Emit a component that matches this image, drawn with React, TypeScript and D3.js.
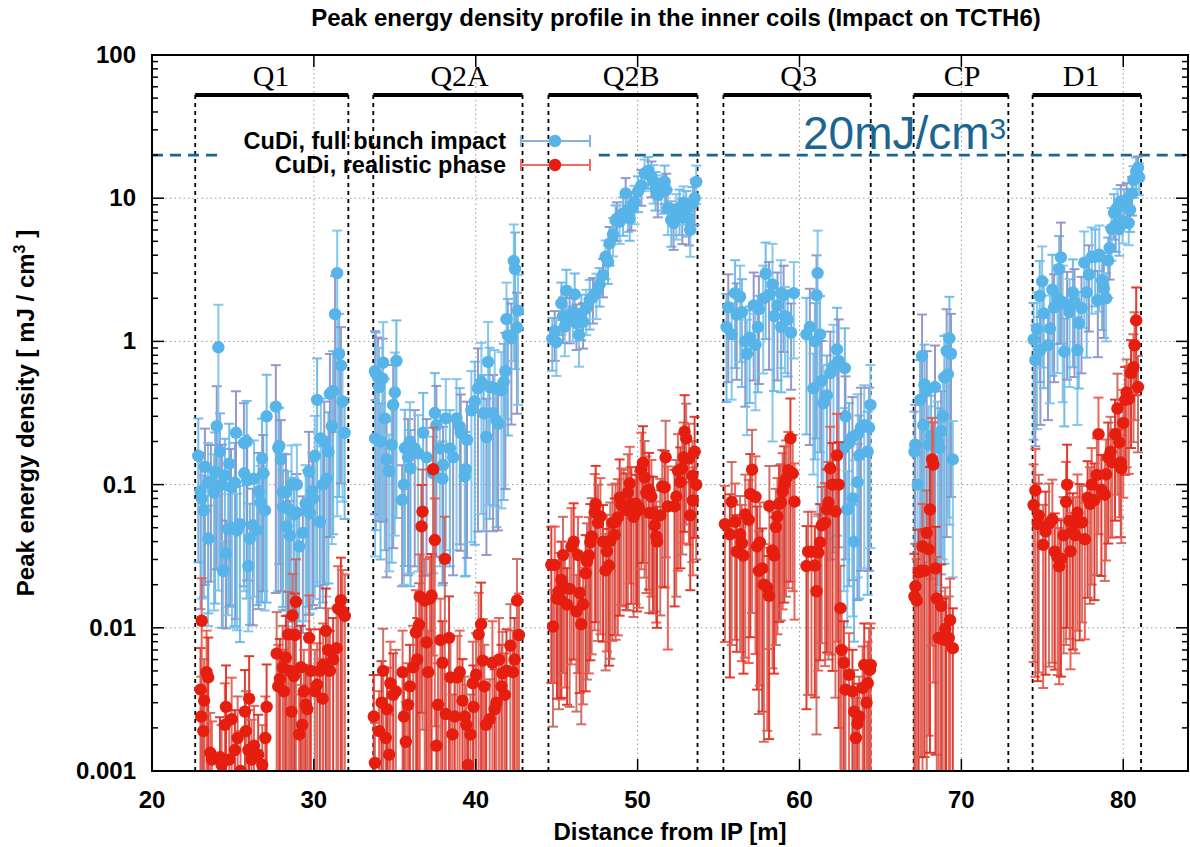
import React from "react";
import * as d3 from "d3";

type Pt = [number, number, number]; // [distance m, peak energy density, relative error]

const xTickValues = [20, 30, 40, 50, 60, 70, 80];
const yTickValues = [0.001, 0.01, 0.1, 1, 10, 100];
const yTickLabels = ["0.001", "0.01", "0.1", "1", "10", "100"];
const gridX = [30, 40, 50, 60, 70, 80];
const gridY = [0.01, 0.1, 1, 10];

const magnetNames = ["Q1", "Q2A", "Q2B", "Q3", "CP", "D1"];
const magnetStart = [22.67, 33.67, 44.49, 55.3, 67.05, 74.4];
const magnetEnd = [32.13, 42.89, 53.7, 64.4, 72.9, 81.1];
const magnetLabelX = [27.35, 39.0, 49.6, 59.95, 70.05, 77.4];

const threshold = 20;
const thresholdSegments = [[20, 24.1], [47.6, 84]];

const q1Blue: Pt[] = [[22.86,0.159,0.82],[23.0,0.09,0.85],[23.07,0.08,0.8],[23.2,0.066,0.75],[23.27,0.133,0.85],[23.46,0.103,0.9],[23.48,0.042,0.7],[23.64,0.105,0.8],[23.83,0.088,0.85],[23.9,0.123,0.88],[24.0,0.256,0.9],[24.1,0.91,0.98],[24.2,0.17,0.85],[24.32,0.1,0.9],[24.4,0.025,0.6],[24.5,0.116,0.8],[24.57,0.033,0.7],[24.7,0.049,0.75],[24.77,0.14,0.9],[24.88,0.096,0.85],[24.94,0.05,0.8],[25.12,0.103,0.9],[25.19,0.23,0.95],[25.25,0.048,0.8],[25.43,0.053,0.85],[25.68,0.195,0.9],[25.7,0.12,0.85],[25.85,0.2,0.92],[25.88,0.107,0.8],[25.95,0.027,0.65],[26.05,0.042,0.75],[26.23,0.052,0.8],[26.3,0.11,0.85],[26.48,0.048,0.7],[26.59,0.09,0.85],[26.7,0.075,0.8],[26.8,0.152,0.9],[26.87,0.12,0.85],[26.98,0.066,0.8],[27.08,0.3,0.95],[27.65,0.35,0.95],[27.8,0.18,0.9],[27.86,0.186,0.85],[27.96,0.15,0.88],[28.07,0.089,0.85],[28.09,0.07,0.8],[28.27,0.088,0.85],[28.31,0.051,0.8],[28.4,0.068,0.82],[28.52,0.044,0.75],[28.62,0.1,0.88],[28.77,0.062,0.8],[28.93,0.064,0.85],[28.95,0.1,0.9],[29.09,0.037,0.7],[29.32,0.046,0.8],[29.49,0.074,0.85],[29.57,0.07,0.8],[29.69,0.123,0.9],[29.75,0.063,0.8],[29.9,0.09,0.85],[29.96,0.08,0.82],[30.06,0.159,0.9],[30.2,0.39,0.95],[30.37,0.055,0.75],[30.43,0.21,0.9],[30.56,0.1,0.85],[30.64,0.2,0.9],[30.78,0.11,0.85],[30.9,0.17,0.88],[30.99,0.43,0.9],[31.11,0.256,0.85],[31.19,0.45,0.9],[31.31,1.55,0.85],[31.44,3.0,0.98],[31.56,0.82,0.9],[31.67,0.68,0.85],[31.77,0.38,0.8],[31.9,0.23,0.75]];

const q1Red: Pt[] = [[23.0,0.0037,0.95],[23.04,0.0024,0.9],[23.07,0.0112,0.98],[23.17,0.0019,0.9],[23.22,0.0031,0.95],[23.37,0.0049,0.95],[23.47,0.0045,0.9],[23.6,0.00134,0.9],[23.7,0.0012,0.85],[24.2,0.00125,0.9],[24.3,0.0011,0.9],[24.5,0.0021,0.95],[24.57,0.0028,0.95],[24.77,0.0012,0.9],[24.92,0.0023,0.95],[25.12,0.0014,0.9],[25.29,0.0017,0.95],[25.47,0.001,0.9],[25.74,0.0026,0.95],[25.8,0.0019,0.9],[25.95,0.0014,0.9],[26.0,0.0032,0.98],[26.15,0.0012,0.9],[26.3,0.0015,0.9],[26.56,0.0013,0.9],[26.81,0.0011,0.9],[27.0,0.0017,0.95],[27.08,0.0028,0.98],[27.7,0.0066,0.95],[27.8,0.0039,0.95],[27.9,0.0044,0.9],[28.07,0.0053,0.95],[28.15,0.0036,0.95],[28.27,0.0062,0.95],[28.41,0.009,0.98],[28.52,0.005,0.95],[28.62,0.0026,0.9],[28.68,0.0122,0.95],[28.77,0.0046,0.95],[28.83,0.0089,0.95],[28.89,0.0152,0.98],[29.09,0.0018,0.9],[29.2,0.0053,0.95],[29.28,0.0021,0.9],[29.38,0.0036,0.95],[29.49,0.0029,0.9],[29.59,0.0027,0.9],[29.71,0.0085,0.98],[29.81,0.005,0.95],[30.06,0.0036,0.95],[30.2,0.004,0.95],[30.37,0.005,0.95],[30.54,0.0032,0.9],[30.57,0.0055,0.95],[30.74,0.0095,0.98],[30.88,0.007,0.95],[30.99,0.005,0.9],[31.19,0.006,0.95],[31.4,0.0072,0.95],[31.5,0.0136,0.98],[31.67,0.0156,0.98],[31.77,0.013,0.95],[31.91,0.0121,0.95]];

const q2aBlue: Pt[] = [[33.77,0.62,0.9],[33.78,0.21,0.85],[33.83,0.6,0.92],[33.97,0.56,0.9],[34.03,0.48,0.88],[34.12,0.2,0.85],[34.24,0.55,0.9],[34.28,0.71,0.92],[34.38,0.29,0.88],[34.49,0.15,0.85],[34.65,0.124,0.8],[34.81,0.19,0.85],[34.9,0.36,0.9],[35.0,0.44,0.9],[35.1,0.73,0.92],[35.45,0.078,0.75],[35.56,0.1,0.8],[35.62,0.18,0.85],[35.82,0.155,0.85],[35.93,0.2,0.88],[35.97,0.13,0.85],[36.23,0.179,0.85],[36.44,0.165,0.85],[36.75,0.23,0.9],[36.96,0.155,0.85],[37.37,0.12,0.8],[37.47,0.316,0.9],[37.57,0.26,0.88],[37.78,0.179,0.85],[37.94,0.11,0.82],[37.98,0.137,0.85],[38.15,0.29,0.88],[38.4,0.179,0.85],[38.6,0.155,0.85],[38.81,0.29,0.88],[39.01,0.255,0.85],[39.07,0.23,0.85],[39.32,0.114,0.8],[39.38,0.128,0.82],[39.46,0.205,0.85],[39.73,0.33,0.88],[39.94,0.38,0.9],[40.14,0.47,0.9],[40.35,0.52,0.88],[40.49,0.315,0.85],[40.66,0.215,0.85],[40.76,0.72,0.9],[40.86,0.48,0.88],[41.07,0.315,0.85],[41.17,0.47,0.85],[41.28,0.28,0.82],[41.38,0.266,0.82],[41.59,0.455,0.85],[41.73,0.52,0.85],[41.83,0.62,0.85],[41.9,1.43,0.8],[41.99,1.1,0.8],[42.2,1.05,0.75],[42.35,3.64,0.8],[42.43,3.2,0.8],[42.55,1.25,0.75],[42.61,1.64,0.78]];

const q2aRed: Pt[] = [[33.7,0.0024,0.95],[33.77,0.00114,0.9],[34.03,0.0019,0.9],[34.18,0.003,0.95],[34.28,0.005,0.97],[34.44,0.0017,0.9],[34.52,0.0027,0.95],[34.65,0.0013,0.9],[34.73,0.0041,0.95],[34.9,0.0034,0.95],[35.06,0.0036,0.95],[35.48,0.0049,0.95],[35.56,0.0024,0.9],[35.68,0.0016,0.9],[35.82,0.0029,0.95],[35.93,0.0039,0.95],[36.13,0.0053,0.95],[36.3,0.0093,0.97],[36.38,0.006,0.95],[36.5,0.0105,0.95],[36.54,0.0165,0.97],[36.65,0.051,0.95],[36.71,0.0647,0.97],[36.85,0.0155,0.95],[36.96,0.0079,0.95],[37.06,0.0049,0.95],[37.16,0.016,0.95],[37.27,0.0168,0.95],[37.37,0.128,0.95],[37.47,0.041,0.95],[37.57,0.0015,0.9],[37.67,0.0029,0.95],[37.82,0.0082,0.95],[37.94,0.0057,0.95],[38.09,0.0303,0.97],[38.15,0.0025,0.9],[38.35,0.0085,0.95],[38.44,0.0045,0.95],[38.56,0.0018,0.9],[38.7,0.0024,0.9],[38.87,0.0045,0.95],[39.01,0.0049,0.95],[39.18,0.0031,0.95],[39.32,0.0024,0.9],[39.42,0.0021,0.9],[39.52,0.0011,0.9],[39.67,0.0018,0.9],[39.82,0.0041,0.95],[39.86,0.0028,0.95],[40.02,0.0047,0.95],[40.18,0.009,0.95],[40.33,0.0106,0.95],[40.43,0.0059,0.95],[40.53,0.0039,0.95],[40.64,0.0021,0.9],[40.86,0.0023,0.9],[41.03,0.0057,0.95],[41.17,0.0027,0.9],[41.28,0.003,0.95],[41.44,0.006,0.95],[41.59,0.0039,0.95],[41.65,0.0048,0.95],[41.79,0.0034,0.95],[41.9,0.005,0.95],[42.14,0.0075,0.95],[42.3,0.0049,0.95],[42.4,0.006,0.95],[42.55,0.0155,0.95],[42.67,0.0089,0.95]];

const q2bBlue: Pt[] = [[44.73,1.04,0.4],[44.88,1.18,0.38],[44.98,0.99,0.42],[45.29,1.84,0.4],[45.39,1.5,0.35],[45.5,1.27,0.38],[45.6,2.26,0.4],[45.8,1.49,0.35],[46.0,1.61,0.38],[46.11,2.13,0.4],[46.22,1.34,0.35],[46.38,1.11,0.4],[46.52,1.57,0.35],[46.63,1.37,0.35],[46.83,1.7,0.35],[47.04,1.95,0.38],[47.24,2.05,0.35],[47.45,2.2,0.35],[47.65,2.5,0.3],[47.86,2.9,0.3],[48.02,3.9,0.3],[48.17,3.6,0.3],[48.27,4.84,0.3],[48.48,5.6,0.3],[48.64,6.96,0.28],[48.72,7.2,0.3],[48.89,6.85,0.3],[49.1,7.8,0.3],[49.26,10.8,0.28],[49.4,8.3,0.3],[49.51,7.2,0.3],[49.61,8.5,0.3],[49.81,9.4,0.3],[50.02,11.1,0.28],[50.23,12.3,0.28],[50.43,14.9,0.25],[50.64,15.5,0.25],[50.85,14.1,0.28],[50.99,13.1,0.3],[51.11,11.7,0.3],[51.25,10.5,0.3],[51.46,11.1,0.3],[51.67,13.0,0.3],[51.77,11.4,0.3],[51.87,8.5,0.35],[52.08,7.05,0.35],[52.22,6.7,0.35],[52.39,7.9,0.35],[52.59,8.5,0.35],[52.76,7.35,0.35],[52.84,9.3,0.3],[53.0,8.3,0.35],[53.17,7.2,0.35],[53.25,6.0,0.35],[53.41,9.2,0.3],[53.52,10.0,0.35],[53.62,13.0,0.3]];

const q2bRed: Pt[] = [[44.67,0.0275,0.85],[44.77,0.0102,0.8],[44.88,0.0275,0.85],[45.02,0.016,0.8],[45.14,0.018,0.85],[45.23,0.0158,0.8],[45.29,0.0216,0.85],[45.39,0.0322,0.85],[45.5,0.0191,0.8],[45.64,0.0145,0.8],[45.8,0.0187,0.85],[45.91,0.037,0.85],[46.05,0.04,0.85],[46.22,0.013,0.8],[46.32,0.0322,0.85],[46.42,0.0175,0.8],[46.52,0.0106,0.8],[46.63,0.0146,0.8],[46.79,0.024,0.85],[46.87,0.029,0.85],[46.99,0.032,0.85],[47.08,0.0395,0.85],[47.16,0.0435,0.85],[47.35,0.064,0.85],[47.41,0.073,0.85],[47.55,0.054,0.85],[47.7,0.06,0.85],[47.86,0.04,0.8],[48.02,0.0252,0.8],[48.1,0.0342,0.8],[48.23,0.0272,0.8],[48.31,0.0405,0.85],[48.44,0.054,0.85],[48.58,0.0445,0.8],[48.64,0.055,0.85],[48.78,0.059,0.85],[48.89,0.081,0.85],[48.99,0.072,0.8],[49.14,0.0705,0.8],[49.3,0.0665,0.8],[49.4,0.088,0.85],[49.51,0.102,0.8],[49.61,0.0735,0.8],[49.75,0.0595,0.8],[49.88,0.0735,0.8],[49.96,0.065,0.8],[50.08,0.069,0.8],[50.23,0.128,0.8],[50.33,0.142,0.8],[50.43,0.112,0.8],[50.54,0.0875,0.8],[50.7,0.0925,0.8],[50.72,0.0635,0.8],[50.85,0.0825,0.8],[50.95,0.063,0.8],[51.05,0.052,0.75],[51.15,0.0435,0.75],[51.2,0.04,0.75],[51.4,0.061,0.8],[51.52,0.097,0.8],[51.67,0.0955,0.8],[51.73,0.155,0.8],[51.87,0.0705,0.9],[52.28,0.0705,0.8],[52.39,0.0825,0.8],[52.49,0.125,0.8],[52.64,0.104,0.75],[52.76,0.13,0.75],[52.84,0.155,0.75],[52.9,0.234,0.8],[53.0,0.21,0.75],[53.17,0.152,0.75],[53.25,0.061,0.7],[53.38,0.115,0.75],[53.41,0.0775,0.7],[53.52,0.17,0.75],[53.62,0.1,0.7]];

const q3Blue: Pt[] = [[55.49,1.26,0.7],[55.6,1.73,0.7],[55.81,1.12,0.65],[56.02,2.17,0.7],[56.12,1.54,0.65],[56.33,2.05,0.65],[56.44,1.6,0.7],[56.65,1.0,0.65],[56.75,0.82,0.73],[56.92,1.06,0.65],[57.17,1.78,0.7],[57.28,0.944,0.65],[57.43,1.26,0.65],[57.49,1.68,0.7],[57.76,1.99,0.7],[57.91,2.97,0.65],[58.12,2.11,0.7],[58.33,2.5,0.92],[58.43,1.5,0.7],[58.64,1.78,0.7],[58.85,2.17,0.7],[58.87,1.26,0.65],[59.02,2.11,0.6],[59.1,1.5,0.6],[59.27,1.42,0.6],[59.48,1.15,0.6],[59.65,2.17,0.65],[60.43,1.12,0.8],[60.64,1.26,0.85],[60.85,0.47,0.75],[60.95,1.0,0.85],[61.05,2.1,0.9],[61.12,3.0,0.98],[61.27,1.12,0.85],[61.37,0.53,0.9],[61.48,0.37,0.85],[61.69,0.42,0.9],[61.9,0.6,0.95],[62.1,0.67,0.95],[62.32,0.88,0.95],[62.42,0.73,0.95],[62.74,0.18,0.9],[62.8,0.65,0.9],[62.84,0.3,0.9],[62.95,0.067,0.85],[63.06,0.195,0.9],[63.27,0.215,0.9],[63.3,0.08,0.85],[63.37,0.04,0.8],[63.58,0.104,0.85],[63.6,0.225,0.9],[63.69,0.16,0.9],[63.79,0.25,0.9],[64.0,0.26,0.9],[64.21,0.17,0.9],[64.3,0.25,0.9],[64.38,0.36,0.9]];

const q3Red: Pt[] = [[55.39,0.053,0.85],[55.7,0.045,0.9],[55.81,0.0757,0.9],[56.02,0.055,0.85],[56.12,0.034,0.8],[56.33,0.045,0.85],[56.44,0.039,0.85],[56.54,0.0319,0.85],[56.65,0.0618,0.9],[56.86,0.0568,0.9],[56.96,0.086,0.9],[57.07,0.127,0.9],[57.28,0.082,0.92],[57.38,0.037,0.9],[57.49,0.025,0.9],[57.55,0.0395,0.9],[57.7,0.026,0.9],[57.8,0.02,0.92],[58.01,0.0191,0.9],[58.12,0.0167,0.9],[58.14,0.071,0.9],[58.33,0.0347,0.85],[58.43,0.0319,0.85],[58.54,0.0505,0.85],[58.64,0.06,0.85],[58.74,0.0733,0.85],[58.85,0.075,0.85],[58.96,0.0896,0.85],[59.06,0.1,0.85],[59.17,0.11,0.85],[59.31,0.126,0.85],[59.44,0.21,0.9],[59.58,0.12,0.85],[59.69,0.076,0.85],[60.43,0.027,0.9],[60.53,0.034,0.9],[60.74,0.034,0.9],[60.95,0.0272,0.88],[61.05,0.018,0.9],[61.16,0.0335,0.85],[61.27,0.0395,0.85],[61.37,0.052,0.85],[61.58,0.054,0.9],[61.69,0.0672,0.9],[61.79,0.075,0.92],[61.9,0.13,0.95],[62.04,0.1,0.95],[62.22,0.065,0.95],[62.32,0.16,0.95],[62.42,0.1,0.98],[62.53,0.0137,0.98],[62.6,0.007,0.95],[62.74,0.0057,0.95],[62.84,0.0037,0.95],[63.06,0.0047,0.95],[63.27,0.0036,0.95],[63.37,0.0026,0.95],[63.48,0.0017,0.9],[63.58,0.00214,0.9],[63.69,0.0024,0.9],[63.9,0.0038,0.95],[64.0,0.0055,0.95],[64.14,0.003,0.9],[64.21,0.0041,0.95],[64.31,0.0051,0.95],[64.36,0.0051,0.95],[64.4,0.0055,0.95]];

const cpBlue: Pt[] = [[67.1,0.17,0.9],[67.15,0.19,0.9],[67.3,0.1,0.85],[67.45,0.39,0.9],[67.57,0.79,0.95],[67.65,0.26,0.9],[67.72,0.5,0.9],[67.86,0.45,0.9],[67.98,0.19,0.85],[68.13,0.22,0.9],[68.37,0.48,0.95],[68.54,0.2,0.9],[68.64,0.18,0.9],[68.75,0.236,0.9],[68.85,0.3,0.9],[68.95,0.56,0.95],[69.09,0.86,0.95],[69.16,0.59,0.9],[69.26,1.05,0.95],[69.36,0.82,0.9],[69.47,0.15,0.85]];

const cpRed: Pt[] = [[67.1,0.0166,0.98],[67.16,0.0195,0.98],[67.24,0.0155,0.95],[67.36,0.0244,0.98],[67.5,0.025,0.95],[67.6,0.037,0.98],[67.72,0.025,0.95],[67.86,0.046,0.98],[67.98,0.0353,0.95],[68.06,0.067,0.98],[68.19,0.15,0.95],[68.27,0.138,0.97],[68.4,0.026,0.95],[68.48,0.016,0.95],[68.6,0.0085,0.95],[68.75,0.0142,0.95],[68.85,0.0083,0.95],[69.0,0.0098,0.95],[69.05,0.0082,0.95],[69.22,0.0085,0.95],[69.3,0.0113,0.95],[69.47,0.0072,0.9]];

const d1Blue: Pt[] = [[74.46,1.03,0.8],[74.57,0.74,0.75],[74.67,1.22,0.8],[74.84,2.08,0.75],[74.88,0.87,0.7],[74.99,2.63,0.75],[75.09,1.57,0.7],[75.35,0.94,0.7],[75.47,1.23,0.7],[75.62,2.3,0.75],[75.73,1.73,0.7],[75.94,2.0,0.7],[76.04,3.2,0.7],[76.15,3.86,0.75],[76.26,1.88,0.8],[76.36,0.85,0.7],[76.53,1.8,0.7],[76.68,1.6,0.7],[76.89,2.2,0.7],[76.99,1.88,0.7],[77.17,0.87,0.7],[77.25,1.34,0.65],[77.42,1.71,0.65],[77.59,3.55,0.65],[77.74,2.2,0.65],[77.88,2.93,0.6],[78.06,3.9,0.6],[78.27,3.9,0.55],[78.43,1.94,0.6],[78.52,4.03,0.6],[78.69,2.67,0.55],[78.8,2.35,0.55],[78.94,2.0,0.5],[79.07,3.66,0.45],[79.16,4.5,0.4],[79.28,6.1,0.4],[79.43,7.9,0.35],[79.53,6.5,0.35],[79.64,8.6,0.35],[79.75,6.1,0.35],[79.85,9.5,0.3],[79.96,6.9,0.3],[80.06,8.9,0.3],[80.21,9.8,0.3],[80.34,6.7,0.3],[80.42,8.3,0.3],[80.55,10.8,0.3],[80.63,13.4,0.25],[80.8,15.4,0.25],[80.91,16.3,0.2],[80.98,14.0,0.25]];

const d1Red: Pt[] = [[74.46,0.072,0.92],[74.57,0.091,0.95],[74.72,0.053,0.92],[74.78,0.061,0.92],[75.05,0.038,0.9],[75.2,0.047,0.9],[75.41,0.0535,0.9],[75.62,0.057,0.9],[75.77,0.034,0.85],[75.94,0.0312,0.85],[76.04,0.0269,0.85],[76.15,0.0304,0.85],[76.32,0.0442,0.85],[76.47,0.0758,0.9],[76.53,0.1,0.9],[76.68,0.0558,0.85],[76.74,0.0342,0.85],[76.89,0.047,0.85],[77.04,0.0442,0.85],[77.17,0.0636,0.85],[77.31,0.0545,0.85],[77.46,0.0545,0.8],[77.63,0.0415,0.8],[77.8,0.081,0.8],[77.95,0.0735,0.8],[78.05,0.1,0.8],[78.22,0.078,0.8],[78.37,0.117,0.8],[78.47,0.225,0.8],[78.65,0.092,0.75],[78.86,0.085,0.75],[78.94,0.118,0.75],[79.07,0.155,0.75],[79.22,0.17,0.75],[79.32,0.143,0.7],[79.49,0.224,0.75],[79.64,0.34,0.75],[79.75,0.197,0.7],[79.85,0.143,0.7],[79.88,0.13,0.7],[80.0,0.27,0.7],[80.12,0.39,0.7],[80.21,0.44,0.7],[80.34,0.396,0.7],[80.48,0.6,0.7],[80.63,0.66,0.7],[80.7,0.94,0.7],[80.8,1.4,0.7],[80.91,0.48,0.65]];

const fullBunch: Pt[] = [...q1Blue, ...q2aBlue, ...q2bBlue, ...q3Blue, ...cpBlue, ...d1Blue];
const realistic: Pt[] = [...q1Red, ...q2aRed, ...q2bRed, ...q3Red, ...cpRed, ...d1Red];

const seriesNames = ["CuDi, full bunch impact", "CuDi, realistic phase"];
const pointColors = ["#56b4e9", "#e51e10"];
const blueBarColors = ["#66b6e6", "#8e90c4", "#7cc2ec"];
const redBarColors = ["#e22a1e", "#c8665c", "#ee574c"];
const legendLineColors = ["#84b4de", "#ee6c63"];

const W = 1190;
const H = 847;
const PL = 152, PR = 1188, PT = 55, PB = 771;
const SANS = "'Liberation Sans', Arial, Helvetica, sans-serif";
const SERIF = "'Liberation Serif', 'Times New Roman', serif";
const TEAL = "#1b6691";

export default function App() {
  const x = d3.scaleLinear().domain([20, 84]).range([PL, PR]);
  const y = d3.scaleLog().domain([0.001, 100]).range([PB, PT]);
  const [yMin, yMax] = y.domain();
  const minorY = y.ticks().filter((v) => !yTickValues.some((t) => Math.abs(t - v) / t < 1e-6));

  const renderBars = (data: Pt[], colors: string[], key: string) =>
    data.map(([xv, yv, e], i) => {
      const hi = yv * (1 + e);
      const lo = yv * (1 - e);
      const hiClip = hi >= yMax;
      const loClip = lo <= yMin;
      const yHi = y(hiClip ? yMax : hi);
      const yLo = y(loClip ? yMin : lo);
      const px = x(xv);
      return (
        <g key={key + i} stroke={colors[i % colors.length]} strokeWidth={2} strokeOpacity={0.92}>
          <line x1={px} x2={px} y1={yHi} y2={yLo} />
          {!hiClip && <line x1={px - 5} x2={px + 5} y1={yHi} y2={yHi} />}
          {!loClip && <line x1={px - 5} x2={px + 5} y1={yLo} y2={yLo} />}
        </g>
      );
    });

  const renderPoints = (data: Pt[], color: string, key: string) =>
    data.map(([xv, yv], i) => <circle key={key + i} cx={x(xv)} cy={y(yv)} r={6.2} fill={color} />);

  return (
    <svg width={W} height={H} style={{ position: "absolute", left: 0, top: 0, background: "#fff" }}>
      <defs>
        <clipPath id="plotClip">
          <rect x={PL} y={PT} width={PR - PL} height={PB - PT} />
        </clipPath>
      </defs>
      <rect x={0} y={0} width={W} height={H} fill="#fff" />

      {/* grid */}
      <g stroke="#9a9a9a" strokeWidth={1} strokeDasharray="1.5,3">
        {gridX.map((v) => (
          <line key={"gx" + v} x1={x(v)} x2={x(v)} y1={PT} y2={PB} />
        ))}
        {gridY.map((v) => (
          <line key={"gy" + v} x1={PL} x2={PR} y1={y(v)} y2={y(v)} />
        ))}
      </g>

      {/* magnet markers */}
      <g>
        {magnetNames.map((n, i) => (
          <g key={n}>
            <line x1={x(magnetStart[i])} x2={x(magnetEnd[i])} y1={95} y2={95} stroke="#000" strokeWidth={4} />
            <line x1={x(magnetStart[i])} x2={x(magnetStart[i])} y1={95} y2={PB} stroke="#000" strokeWidth={1.8} strokeDasharray="4,4" />
            <line x1={x(magnetEnd[i])} x2={x(magnetEnd[i])} y1={95} y2={PB} stroke="#000" strokeWidth={1.8} strokeDasharray="4,4" />
            <text x={x(magnetLabelX[i])} y={86} textAnchor="middle" fontFamily={SERIF} fontSize={30} fill="#000">
              {n}
            </text>
          </g>
        ))}
      </g>

      {/* threshold */}
      <g stroke={TEAL} strokeWidth={2.8} strokeDasharray="11,7">
        {thresholdSegments.map((s, i) => (
          <line key={"th" + i} x1={x(s[0])} x2={x(s[1])} y1={y(threshold)} y2={y(threshold)} />
        ))}
      </g>
      <text x={803} y={149} fontFamily={SANS} fontSize={46} fill={TEAL}>
        20mJ/cm<tspan fontSize={30} dy={-10}>3</tspan>
      </text>

      {/* data */}
      <g clipPath="url(#plotClip)">
        {renderBars(fullBunch, blueBarColors, "bb")}
        {renderPoints(fullBunch, pointColors[0], "bp")}
        {renderBars(realistic, redBarColors, "rb")}
        {renderPoints(realistic, pointColors[1], "rp")}
      </g>

      {/* legend */}
      {seriesNames.map((s, i) => {
        const ly = 141 + i * 24;
        return (
          <g key={"lg" + i}>
            <text x={506} y={ly + 8} textAnchor="end" fontFamily={SANS} fontWeight="bold" fontSize={23.5} fill="#000">
              {s}
            </text>
            <g stroke={legendLineColors[i]} strokeWidth={2}>
              <line x1={521} x2={590} y1={ly} y2={ly} />
              <line x1={521} x2={521} y1={ly - 6} y2={ly + 6} />
              <line x1={590} x2={590} y1={ly - 6} y2={ly + 6} />
            </g>
            <circle cx={555} cy={ly} r={6.2} fill={pointColors[i]} />
          </g>
        );
      })}

      {/* ticks */}
      <g stroke="#000" strokeWidth={1.5}>
        {xTickValues.map((v) => (
          <g key={"xt" + v}>
            <line x1={x(v)} x2={x(v)} y1={PB} y2={PB - 12} />
            <line x1={x(v)} x2={x(v)} y1={PT} y2={PT + 12} />
          </g>
        ))}
        {yTickValues.map((v) => (
          <g key={"yt" + v}>
            <line x1={PL} x2={PL + 12} y1={y(v)} y2={y(v)} />
            <line x1={PR} x2={PR - 12} y1={y(v)} y2={y(v)} />
          </g>
        ))}
        {minorY.map((v, i) => (
          <g key={"ym" + i}>
            <line x1={PL} x2={PL + 6} y1={y(v)} y2={y(v)} />
            <line x1={PR} x2={PR - 6} y1={y(v)} y2={y(v)} />
          </g>
        ))}
      </g>

      {/* frame */}
      <rect x={PL} y={PT} width={PR - PL} height={PB - PT} fill="none" stroke="#000" strokeWidth={2} />

      {/* tick labels */}
      <g fontFamily={SANS} fontWeight="bold" fontSize={24} fill="#000">
        {xTickValues.map((v) => (
          <text key={"xl" + v} x={x(v)} y={808} textAnchor="middle">
            {v}
          </text>
        ))}
        {yTickValues.map((v, i) => (
          <text key={"yl" + v} x={136} y={y(v) + 8} textAnchor="end">
            {yTickLabels[i]}
          </text>
        ))}
      </g>

      {/* titles */}
      <text x={676} y={26} textAnchor="middle" fontFamily={SANS} fontWeight="bold" fontSize={24} fill="#000">
        Peak energy density profile in the inner coils (Impact on TCTH6)
      </text>
      <text x={670} y={840} textAnchor="middle" fontFamily={SANS} fontWeight="bold" fontSize={24} fill="#000">
        Distance from IP [m]
      </text>
      <text
        transform={`translate(34,${(PT + PB) / 2}) rotate(-90)`}
        textAnchor="middle"
        fontFamily={SANS}
        fontWeight="bold"
        fontSize={24}
        fill="#000"
      >
        Peak energy density [ mJ / cm<tspan fontSize={16} dy={-9}>3</tspan>
        <tspan dy={9}> ]</tspan>
      </text>
    </svg>
  );
}
